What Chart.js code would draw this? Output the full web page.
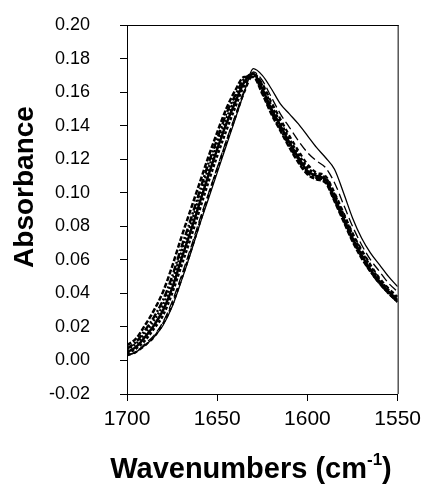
<!DOCTYPE html>
<html>
<head>
<meta charset="utf-8">
<script src="https://cdn.jsdelivr.net/npm/chart.js@4.4.1/dist/chart.umd.min.js"></script>
<style>
  html, body { margin: 0; padding: 0; background: #fff; }
  #wrap { width: 427px; height: 487px; }
</style>
</head>
<body>
<div id="wrap"><canvas id="spectra" width="427" height="487"></canvas></div>
<script>
  // Amide I region, one value every 5 cm-1 from 1700 down to 1550
  const wavenumbers = [1700, 1695, 1690, 1685, 1680, 1675, 1670, 1665, 1660, 1655, 1650, 1645, 1640, 1635, 1630,
    1625, 1620, 1615, 1610, 1605, 1600, 1595, 1590, 1585, 1580, 1575, 1570, 1565, 1560, 1555, 1550];

  const spectrumTop = [0.003, 0.005, 0.009, 0.014, 0.021, 0.032, 0.047, 0.063, 0.080, 0.096, 0.112, 0.128, 0.144, 0.160, 0.174,
    0.170, 0.162, 0.153, 0.147, 0.141, 0.134, 0.127, 0.121, 0.114, 0.100, 0.085, 0.073, 0.064, 0.057, 0.050, 0.044];
  const spectrumLongDash = [0.003, 0.005, 0.010, 0.015, 0.023, 0.035, 0.050, 0.066, 0.083, 0.099, 0.115, 0.131, 0.146, 0.161, 0.172,
    0.167, 0.157, 0.147, 0.139, 0.131, 0.124, 0.119, 0.115, 0.106, 0.093, 0.080, 0.069, 0.060, 0.053, 0.046, 0.041];
  const spectrumA = [0.005, 0.008, 0.014, 0.021, 0.030, 0.043, 0.060, 0.076, 0.093, 0.110, 0.126, 0.141, 0.154, 0.166, 0.171,
    0.162, 0.150, 0.140, 0.130, 0.121, 0.113, 0.110, 0.108, 0.097, 0.085, 0.073, 0.063, 0.054, 0.047, 0.041, 0.036];
  const spectrumB = [0.009, 0.013, 0.021, 0.030, 0.041, 0.056, 0.073, 0.089, 0.105, 0.121, 0.136, 0.150, 0.161, 0.169, 0.169,
    0.159, 0.147, 0.137, 0.127, 0.118, 0.111, 0.108, 0.106, 0.095, 0.083, 0.071, 0.061, 0.053, 0.046, 0.040, 0.035];
  const spectrumC = [0.004, 0.007, 0.012, 0.019, 0.027, 0.040, 0.056, 0.072, 0.089, 0.106, 0.122, 0.137, 0.151, 0.164, 0.171,
    0.164, 0.152, 0.142, 0.132, 0.123, 0.115, 0.111, 0.109, 0.099, 0.087, 0.075, 0.065, 0.056, 0.048, 0.042, 0.037];
  const spectrumD = [0.007, 0.011, 0.018, 0.026, 0.036, 0.050, 0.067, 0.083, 0.100, 0.117, 0.132, 0.147, 0.158, 0.168, 0.170,
    0.160, 0.148, 0.138, 0.128, 0.119, 0.112, 0.109, 0.107, 0.096, 0.084, 0.072, 0.062, 0.053, 0.046, 0.040, 0.035];
  const spectrumE = [0.003, 0.005, 0.009, 0.014, 0.022, 0.033, 0.048, 0.064, 0.081, 0.098, 0.114, 0.130, 0.145, 0.160, 0.170,
    0.165, 0.154, 0.144, 0.134, 0.125, 0.117, 0.112, 0.110, 0.100, 0.088, 0.076, 0.066, 0.057, 0.049, 0.043, 0.038];
  const spectrumF = [0.006, 0.010, 0.016, 0.024, 0.033, 0.047, 0.064, 0.080, 0.097, 0.114, 0.129, 0.144, 0.156, 0.167, 0.171,
    0.161, 0.149, 0.139, 0.129, 0.120, 0.112, 0.109, 0.107, 0.096, 0.084, 0.072, 0.062, 0.054, 0.047, 0.041, 0.036];

  const xTicks = [1700, 1650, 1600, 1550];
  const yMin = -0.02;
  const yMax = 0.20;
  const yStep = 0.02;
  const yTitle = "Absorbance";
  const xTitle = "Wavenumbers (cm";
  const xTitleSup = "-1";

  function toPoints(values) {
    return values.map((v, i) => ({ x: wavenumbers[i], y: v }));
  }

  function lineSet(label, values, width, dash) {
    return {
      label: label,
      data: toPoints(values),
      borderColor: "#000",
      backgroundColor: "#000",
      borderWidth: width,
      borderDash: dash,
      pointRadius: 0,
      fill: false,
      cubicInterpolationMode: "monotone",
    };
  }

  // box on top/right + the two axis titles (x title has a superscript)
  const frameAndTitles = {
    id: "frameAndTitles",
    afterDraw(chart) {
      const ctx = chart.ctx;
      const a = chart.chartArea;
      ctx.save();
      ctx.strokeStyle = "#000";
      ctx.lineWidth = 1;
      ctx.beginPath();
      ctx.moveTo(a.left, a.top + 0.5);
      ctx.lineTo(a.right + 1, a.top + 0.5);
      ctx.moveTo(a.right + 0.5, a.top);
      ctx.lineTo(a.right + 0.5, a.bottom);
      ctx.stroke();

      ctx.fillStyle = "#000";
      ctx.textBaseline = "middle";
      ctx.textAlign = "center";
      ctx.font = "bold 28px 'Liberation Sans', Arial, sans-serif";
      ctx.save();
      ctx.translate(25, 187);
      ctx.rotate(-Math.PI / 2);
      ctx.fillText(yTitle, 0, 0);
      ctx.restore();

      ctx.font = "bold 29px 'Liberation Sans', Arial, sans-serif";
      const mainW = ctx.measureText(xTitle).width;
      const closeW = ctx.measureText(")").width;
      ctx.font = "bold 17px 'Liberation Sans', Arial, sans-serif";
      const supW = ctx.measureText(xTitleSup).width;
      const total = mainW + supW + closeW;
      let x = 251 - total / 2;
      const y = 470;
      ctx.textAlign = "left";
      ctx.font = "bold 29px 'Liberation Sans', Arial, sans-serif";
      ctx.fillText(xTitle, x, y);
      x += mainW;
      ctx.font = "bold 17px 'Liberation Sans', Arial, sans-serif";
      ctx.fillText(xTitleSup, x, y - 10);
      x += supW;
      ctx.font = "bold 29px 'Liberation Sans', Arial, sans-serif";
      ctx.fillText(")", x, y);
      ctx.restore();
    },
  };

  const ctx = document.getElementById("spectra").getContext("2d");
  const chart = new Chart(ctx, {
    type: "line",
    data: {
      datasets: [
        lineSet("Spectrum 1", spectrumTop, 1.3, []),
        lineSet("Spectrum 2", spectrumLongDash, 1.3, [9, 4]),
        lineSet("Spectrum 3", spectrumA, 2.5, []),
        lineSet("Spectrum 4", spectrumB, 2.5, [5, 2]),
        lineSet("Spectrum 5", spectrumC, 2.5, [3, 2]),
        lineSet("Spectrum 6", spectrumD, 2.5, [7, 2, 2, 2]),
        lineSet("Spectrum 7", spectrumE, 2.2, [4, 3]),
        lineSet("Spectrum 8", spectrumF, 2.5, [2, 2]),
      ],
    },
    options: {
      responsive: false,
      animation: false,
      layout: {
        padding: { left: 0, top: 25, right: 28, bottom: 0 },
      },
      plugins: {
        legend: { display: false },
        tooltip: { enabled: false },
      },
      scales: {
        x: {
          type: "linear",
          reverse: true,
          min: 1550,
          max: 1700,
          afterFit: scale => { scale.height = 93; },
          afterBuildTicks: scale => { scale.ticks = xTicks.map(v => ({ value: v })); },
          grid: { drawOnChartArea: false, drawTicks: true, tickLength: 7, tickColor: "#000" },
          border: { display: true, color: "#000", width: 1 },
          ticks: {
            color: "#000",
            padding: 6,
            maxRotation: 0,
            font: { family: "'Liberation Sans', Arial, sans-serif", size: 21 },
            callback: v => String(v),
          },
        },
        y: {
          min: yMin,
          max: yMax,
          afterFit: scale => {
            scale.width = 127;
            scale.paddingTop = 10;
            scale.paddingBottom = 10;
          },
          grid: { drawOnChartArea: false, drawTicks: true, tickLength: 7, tickColor: "#000" },
          border: { display: true, color: "#000", width: 1 },
          ticks: {
            stepSize: yStep,
            color: "#000",
            padding: 30,
            font: { family: "'Liberation Sans', Arial, sans-serif", size: 18 },
            callback: v => Number(v).toFixed(2),
          },
        },
      },
    },
    plugins: [frameAndTitles],
  });
</script>
</body>
</html>
